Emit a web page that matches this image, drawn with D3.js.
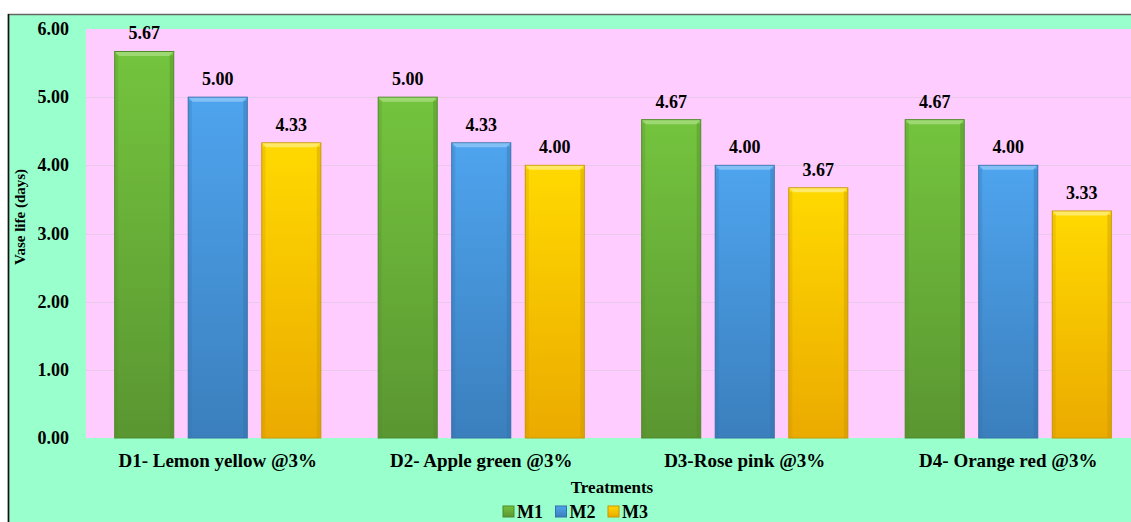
<!DOCTYPE html>
<html>
<head>
<meta charset="utf-8">
<title>Vase life</title>
<script src="https://cdnjs.cloudflare.com/ajax/libs/d3/7.8.5/d3.min.js"></script>
<style>
  body { margin: 0; background: #fff; }
  text { font-family: "Liberation Serif", "Times New Roman", serif; font-weight: bold; fill: #000; }
</style>
</head>
<body>
<svg id="chart" width="1131" height="522"></svg>
<script>
var categories = ["D1- Lemon yellow @3%", "D2- Apple green @3%", "D3-Rose pink @3%", "D4- Orange red @3%"];
var seriesNames = ["M1", "M2", "M3"];
var m1 = [5.67, 5.00, 4.67, 4.67];
var m2 = [5.00, 4.33, 4.00, 4.00];
var m3 = [4.33, 4.00, 3.67, 3.33];
var yTicks = [0, 1, 2, 3, 4, 5, 6];

var colors = {
  M1: { top: "#74c43e", bot: "#5a9631", edge: "#4f8a2a", light: "#a6dc7c" },
  M2: { top: "#4ea4ee", bot: "#3b7fbd", edge: "#3570a8", light: "#8cc6f6" },
  M3: { top: "#ffd900", bot: "#ebaa00", edge: "#c99500", light: "#ffec7a" }
};

var svg = d3.select("#chart");
var W = 1131, H = 522;

var plot = { left: 86, right: 1140, top: 29, bottom: 438 };

// outer frame
svg.append("rect")
  .attr("x", 8.5).attr("y", 14.5)
  .attr("width", W).attr("height", H)
  .attr("fill", "#99ffcc")
  .attr("stroke", "#666").attr("stroke-width", 1.5);
svg.append("line")
  .attr("x1", 8.5).attr("x2", 8.5).attr("y1", 14).attr("y2", H)
  .attr("stroke", "#111").attr("stroke-width", 1.5);

svg.append("rect")
  .attr("x", plot.left).attr("y", plot.top)
  .attr("width", plot.right - plot.left).attr("height", plot.bottom - plot.top)
  .attr("fill", "#ffccff");

var x0 = d3.scaleBand().domain(categories).range([plot.left, plot.right]);
var x1 = d3.scaleBand().domain(seriesNames).range([0, x0.bandwidth()]).paddingInner(0.197).paddingOuter(0.39);
var y = d3.scaleLinear().domain([0, 6]).range([plot.bottom, plot.top]);

// gradients
var defs = svg.append("defs");
seriesNames.forEach(function(s) {
  var g = defs.append("linearGradient").attr("id", "grad" + s)
    .attr("x1", 0).attr("y1", 0).attr("x2", 0).attr("y2", 1);
  g.append("stop").attr("offset", "0%").attr("stop-color", colors[s].top);
  g.append("stop").attr("offset", "100%").attr("stop-color", colors[s].bot);
});

// gridlines
svg.append("g").selectAll("line")
  .data(yTicks.filter(function(d) { return d > 0 && d < 6; }))
  .enter().append("line")
  .attr("x1", plot.left).attr("x2", plot.right)
  .attr("y1", function(d) { return Math.round(y(d)) + 0.5; })
  .attr("y2", function(d) { return Math.round(y(d)) + 0.5; })
  .attr("stroke", "#e9c8ea").attr("stroke-width", 1);

// y axis labels
svg.append("g").selectAll("text")
  .data(yTicks)
  .enter().append("text")
  .attr("x", 69)
  .attr("y", function(d) { return y(d) + 6; })
  .attr("text-anchor", "end")
  .attr("font-size", "18px")
  .text(function(d) { return d.toFixed(2); });

svg.append("text")
  .attr("transform", "translate(25,217) rotate(-90)")
  .attr("text-anchor", "middle")
  .attr("font-size", "15px")
  .text("Vase life (days)");

// bars
var rows = categories.map(function(c, i) {
  return { cat: c, vals: [m1[i], m2[i], m3[i]] };
});

var groups = svg.append("g").selectAll("g")
  .data(rows)
  .enter().append("g")
  .attr("transform", function(d) { return "translate(" + x0(d.cat) + ",0)"; });

var bars = groups.selectAll("g.bar")
  .data(function(d) { return d.vals.map(function(v, j) { return { s: seriesNames[j], v: v }; }); })
  .enter().append("g").attr("class", "bar");

bars.append("rect")
  .attr("x", function(d) { return x1(d.s); })
  .attr("y", function(d) { return y(d.v); })
  .attr("width", x1.bandwidth())
  .attr("height", function(d) { return plot.bottom - y(d.v); })
  .attr("fill", function(d) { return "url(#grad" + d.s + ")"; })
  .attr("stroke", function(d) { return colors[d.s].edge; })
  .attr("stroke-width", 1);

// bevel highlight along top
bars.append("path")
  .attr("d", function(d) {
    var x = x1(d.s) + 0.5, w = x1.bandwidth() - 1, t = y(d.v) + 0.5;
    return "M" + x + "," + t + "h" + w + "l-4,4h" + (-(w - 8)) + "z";
  })
  .attr("fill", function(d) { return colors[d.s].light; })
  .attr("opacity", 0.85);

// side shading
bars.append("rect")
  .attr("x", function(d) { return x1(d.s) + x1.bandwidth() - 4; })
  .attr("y", function(d) { return y(d.v) + 4; })
  .attr("width", 3.5)
  .attr("height", function(d) { return plot.bottom - y(d.v) - 4; })
  .attr("fill", function(d) { return colors[d.s].edge; })
  .attr("opacity", 0.4);
bars.append("rect")
  .attr("x", function(d) { return x1(d.s) + 0.5; })
  .attr("y", function(d) { return y(d.v) + 4; })
  .attr("width", 3)
  .attr("height", function(d) { return plot.bottom - y(d.v) - 4; })
  .attr("fill", function(d) { return colors[d.s].edge; })
  .attr("opacity", 0.25);

bars.append("text")
  .attr("x", function(d) { return x1(d.s) + x1.bandwidth() / 2; })
  .attr("y", function(d) { return y(d.v) - 12; })
  .attr("text-anchor", "middle")
  .attr("font-size", "18px")
  .text(function(d) { return d.v.toFixed(2); });

// x labels
svg.append("g").selectAll("text")
  .data(categories)
  .enter().append("text")
  .attr("x", function(d) { return x0(d) + x0.bandwidth() / 2; })
  .attr("y", 467)
  .attr("text-anchor", "middle")
  .attr("font-size", "19px")
  .text(function(d) { return d; });

svg.append("text")
  .attr("x", 612).attr("y", 493)
  .attr("text-anchor", "middle")
  .attr("font-size", "17px")
  .text("Treatments");

// legend
var legend = svg.append("g").attr("transform", "translate(503,506)");
var lx = d3.scalePoint().domain(seriesNames).range([0, 105]);
var items = legend.selectAll("g").data(seriesNames).enter().append("g")
  .attr("transform", function(d) { return "translate(" + lx(d) + ",0)"; });
items.append("rect")
  .attr("width", 11).attr("height", 11)
  .attr("fill", function(d) { return "url(#grad" + d + ")"; })
  .attr("stroke", function(d) { return colors[d].edge; });
items.append("text")
  .attr("x", 14).attr("y", 12)
  .attr("font-size", "18px")
  .text(function(d) { return d; });
</script>
</body>
</html>
